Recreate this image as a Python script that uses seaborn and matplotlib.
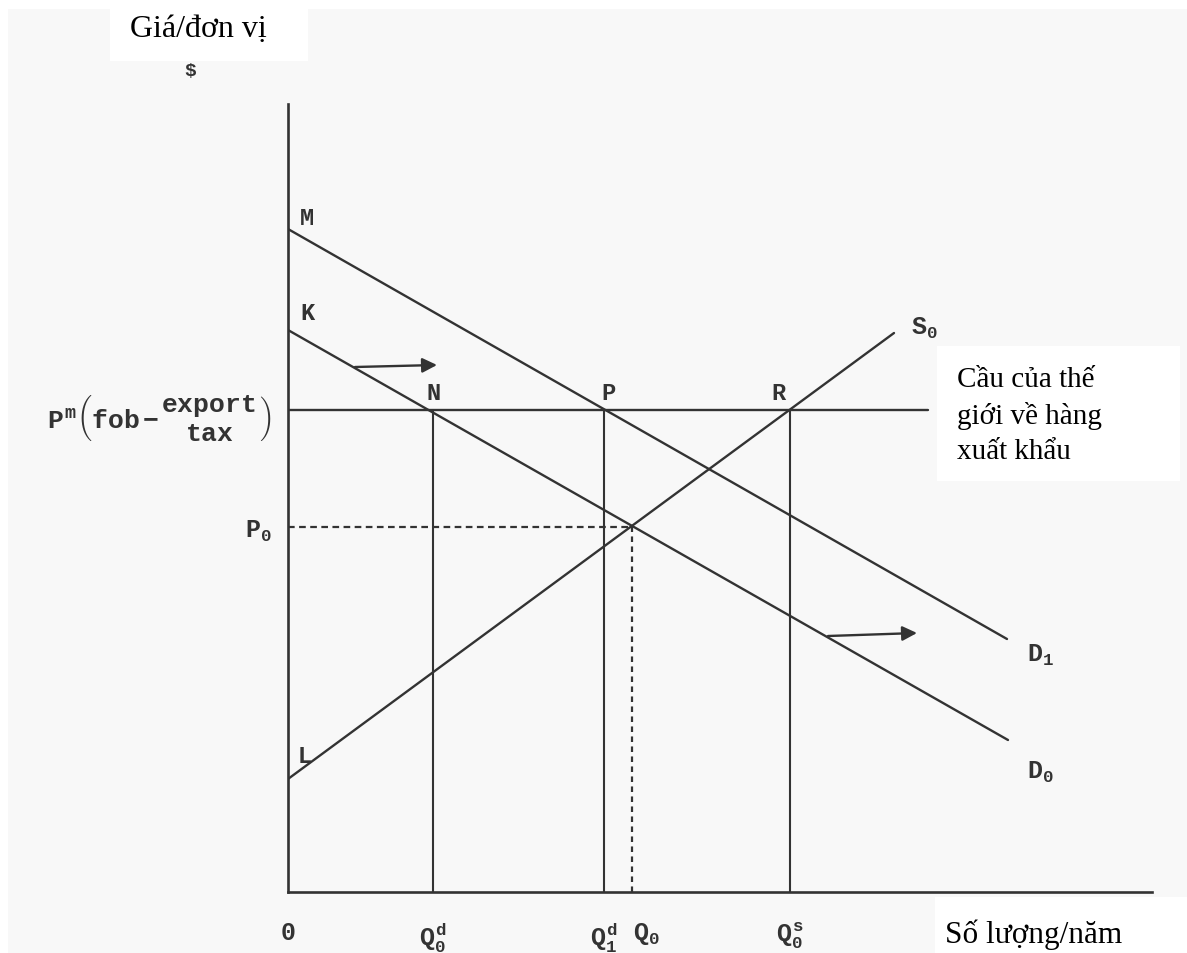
import seaborn as sns
import matplotlib.pyplot as plt
import matplotlib.transforms as mtransforms
from matplotlib.patches import Rectangle
import pandas as pd

sns.set_theme(style="white")
plt.rcParams["font.family"] = ["Liberation Mono", "DejaVu Sans"]
plt.rcParams["mathtext.fontset"] = "custom"
plt.rcParams["mathtext.rm"] = "Liberation Mono:bold"
plt.rcParams["mathtext.it"] = "Liberation Mono:bold"
plt.rcParams["mathtext.bf"] = "Liberation Mono:bold"

# --- data (quantity / price units) ---
d1_x = [0.0, 7.19]
d1_y = [6.63, 2.53]
d0_x = [0.0, 7.20]
d0_y = [5.62, 1.52]
s0_x = [0.0, 6.06]
s0_y = [1.13, 5.59]
p_world = 4.82          # P^m (fob - export tax)
p_world_end = 6.40
p0 = 3.65
q_vals = [0.0, 1.45, 3.16, 3.44, 5.02]
q_labels = [r"$0$", r"$Q_0^d$", r"$Q_1^d$", r"$Q_0$", r"$Q_0^s$"]
p_vals = [p0, p_world]
p_labels = [r"$P_0$",
            r"$P^m\left(\mathrm{fob}-\genfrac{}{}{0}{0}{\mathrm{export}}{\mathrm{tax}}\right)$"]
x_max, y_max = 8.64, 7.88
arrow_top = [(0.67, 5.25), (1.49, 5.27)]
arrow_bot = [(5.40, 2.56), (6.29, 2.59)]
point_labels = {"M": (0.19, 6.75), "K": (0.19, 5.80), "L": (0.17, 1.36),
                "N": (1.46, 4.99), "P": (3.20, 5.00), "R": (4.90, 5.00)}
curve_labels = {r"$S_0$": (6.36, 5.65), r"$D_1$": (7.52, 2.38),
                r"$D_0$": (7.52, 1.21)}

ink = "#333333"
W, H = 1187, 954
fig = plt.figure(figsize=(W / 100, H / 100), dpi=100, facecolor="white")
fig.patches.append(Rectangle((8 / W, 0), 1, 1 - 10 / H, transform=fig.transFigure,
                             facecolor="#f8f8f8", edgecolor="none", zorder=-10))
ax = fig.add_axes([288 / W, (H - 893) / H, (1152 - 288) / W, (893 - 105) / H])
ax.set_facecolor("none")
ax.set_zorder(0)

# curves
curves = pd.DataFrame({
    "q": d1_x + d0_x + s0_x + [0.0, p_world_end],
    "p": d1_y + d0_y + s0_y + [p_world, p_world],
    "curve": ["D1"] * 2 + ["D0"] * 2 + ["S0"] * 2 + ["Pm"] * 2,
})
for name, g in curves.groupby("curve"):
    sns.lineplot(data=g, x="q", y="p", estimator=None, sort=False,
                 color=ink, lw=1.7, ax=ax)

# verticals from the world price line down to the axis
for q in [q_vals[1], q_vals[2], q_vals[4]]:
    sns.lineplot(x=[q, q], y=[0, p_world], estimator=None, sort=False,
                 color=ink, lw=1.5, ax=ax)

# dashed equilibrium guides
sns.lineplot(x=[0, q_vals[3]], y=[p0, p0], estimator=None, sort=False,
             color=ink, lw=1.6, ls=(0, (3, 2)), ax=ax)
sns.lineplot(x=[q_vals[3], q_vals[3]], y=[0, p0], estimator=None, sort=False,
             color=ink, lw=1.6, ls=(0, (2.5, 2)), ax=ax)

# shift arrows
for a in [arrow_top, arrow_bot]:
    ax.annotate("", xy=a[1], xytext=a[0],
                arrowprops=dict(arrowstyle="-|>", color=ink, lw=1.7,
                                mutation_scale=22, shrinkA=0, shrinkB=0))

for t, (x, y) in point_labels.items():
    ax.text(x, y, t, ha="center", va="center", fontsize=17,
            fontweight="bold", color=ink)
for t, (x, y) in curve_labels.items():
    ax.text(x, y, t, ha="center", va="center", fontsize=18, color=ink)

ax.set_xlim(0, x_max)
ax.set_ylim(0, y_max)
ax.set_xticks(q_vals, q_labels)
ax.set_yticks(p_vals, p_labels)
ax.tick_params(axis="both", length=0, colors=ink, labelsize=18)
ax.tick_params(axis="x", pad=20)
ax.tick_params(axis="y", pad=12)
ax.get_yticklabels()[1].set_fontsize(19)
ax.get_xticklabels()[3].set_transform(
    ax.get_xticklabels()[3].get_transform()
    + mtransforms.ScaledTranslation(0.14, 0, fig.dpi_scale_trans))
for s in ["top", "right"]:
    ax.spines[s].set_visible(False)
for s in ["left", "bottom"]:
    ax.spines[s].set_color(ink)
    ax.spines[s].set_linewidth(1.9)
ax.set_xlabel("")
ax.set_ylabel("")

# Vietnamese captions on white patches
serif = ["Liberation Serif", "DejaVu Serif"]
fig.patches.append(Rectangle((110 / W, 1 - 62 / H), 198 / W, 52 / H,
                             transform=fig.transFigure, facecolor="white",
                             edgecolor="none", zorder=1))
fig.text(130 / W, 1 - 30 / H, "Giá/đơn vị", family=serif, fontsize=23,
         va="center", ha="left", color="black", zorder=2)
fig.text(190 / W, 1 - 72 / H, "$", fontsize=14, fontweight="bold",
         ha="center", va="center", color=ink)
fig.patches.append(Rectangle((937 / W, 1 - 482 / H), 243 / W, 135 / H,
                             transform=fig.transFigure, facecolor="white",
                             edgecolor="none", zorder=1))
fig.text(957 / W, 1 - 416 / H, "Cầu của thế\ngiới về hàng\nxuất khẩu",
         family=serif, fontsize=21, va="center", ha="left",
         linespacing=1.45, color="black", zorder=2)
fig.patches.append(Rectangle((935 / W, 0), 252 / W, 56 / H,
                             transform=fig.transFigure, facecolor="white",
                             edgecolor="none", zorder=1))
fig.text(945 / W, 1 - 935 / H, "Số lượng/năm", family=serif, fontsize=22.5,
         va="center", ha="left", color="black", zorder=2)

plt.savefig("out.png", dpi=100, facecolor=fig.get_facecolor())
